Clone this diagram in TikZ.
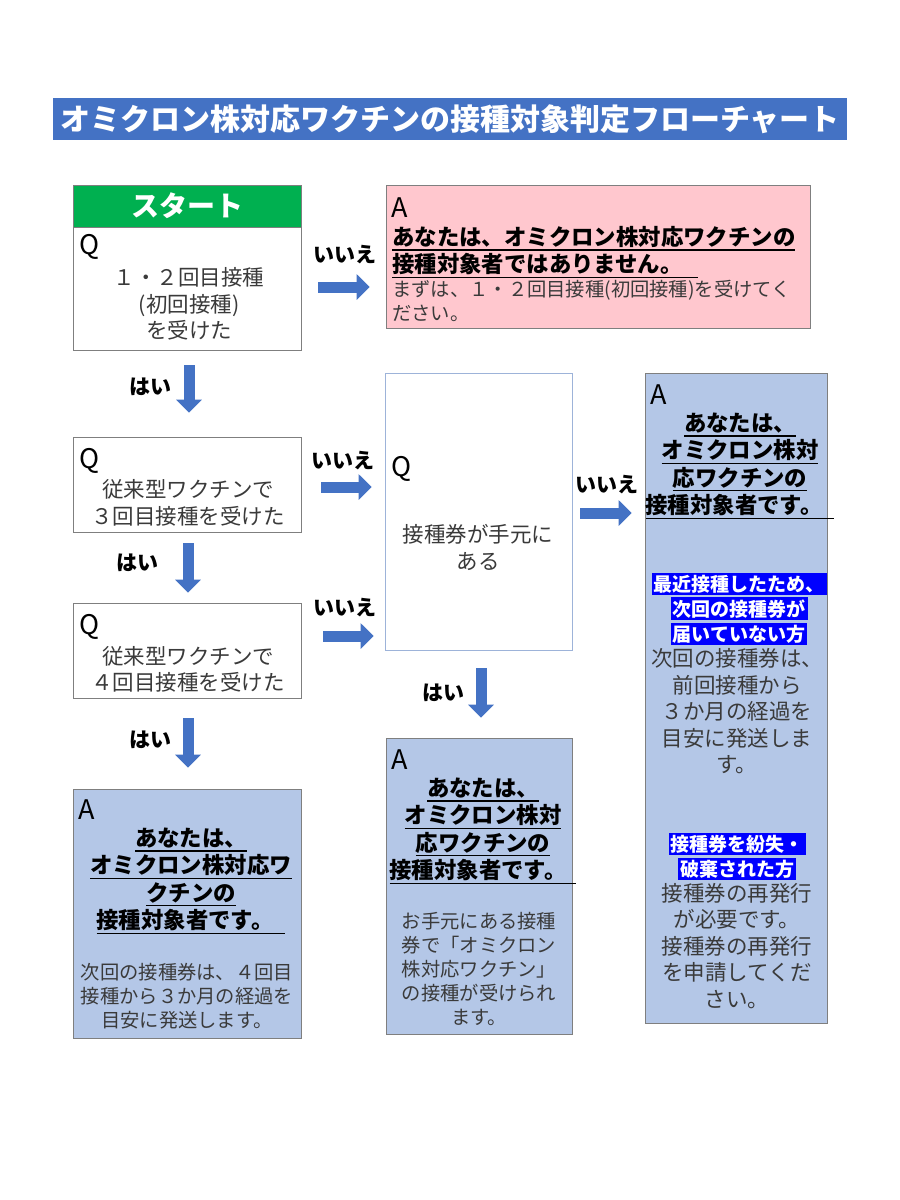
\documentclass[tikz,border=0pt]{standalone}
\usepackage{fontspec}
\setmainfont{Noto Sans CJK JP}
\usetikzlibrary{arrows.meta}
\usetikzlibrary{positioning}

\definecolor{titleblue}{HTML}{4472C4}
\definecolor{arrowblue}{HTML}{4472C4}
\definecolor{startgreen}{HTML}{00B050}
\definecolor{ngpink}{HTML}{FFC7CE}
\definecolor{ansblue}{HTML}{B4C7E7}
\definecolor{hlblue}{HTML}{0000FF}
\definecolor{boxgray}{HTML}{7F7F7F}
\definecolor{midframe}{HTML}{9DB3D9}
\definecolor{textgray}{HTML}{3A3A3A}

\newcommand{\undl}[2][0pt]{\leavevmode\vtop{\hbox{#2\hskip#1}\kern2pt\hrule height 1.3pt}}
\newcommand{\hlite}[1]{{\setlength{\fboxsep}{2pt}\colorbox{hlblue}{\textcolor{white}{#1}}}}

\begin{document}
\begin{tikzpicture}[x=1pt,y=-1pt,
    qframe/.style={draw=boxgray, line width=0.8pt, fill=white, inner sep=0pt},
    aframe/.style={qframe, fill=ansblue},
    ngframe/.style={qframe, fill=ngpink},
    titlebar/.style={fill=titleblue, text=white, inner sep=0pt, font=\bfseries\fontsize{30}{30}\selectfont},
    startbar/.style={qframe, fill=startgreen, text=white, font=\bfseries\fontsize{28}{28}\selectfont},
    blockarrow/.style={draw=arrowblue, line width=11pt, -{Triangle[length=13pt,width=25pt]}},
    qalabel/.style={anchor=west, inner sep=0pt, text=black, font=\fontsize{27}{27}\selectfont},
    yesno/.style={inner sep=0pt, text=black, font=\bfseries\fontsize{21}{21}\selectfont},
    bodytext/.style={inner sep=0pt, align=center, text=textgray, font=\fontsize{21.5}{26.5}\selectfont},
    smalltext/.style={inner sep=0pt, align=center, text=textgray, font=\fontsize{19.3}{24}\selectfont},
    boldtext/.style={inner sep=0pt, align=center, text=black, font=\bfseries\fontsize{22.4}{27.2}\selectfont},
    hltext/.style={inner sep=0pt, align=center, font=\bfseries\fontsize{19}{25}\selectfont}
]
  \useasboundingbox (0,0) rectangle (900,1200);
  \fill[white] (0,0) rectangle (900,1200);

  % title
  \node[titlebar, minimum width=794, minimum height=42] (title) at (450,119) {オミクロン株対応ワクチンの接種対象判定フローチャート};

  % questions
  \node[startbar, minimum width=228, minimum height=42] (start) at (187,206) {スタート};
  \node[qframe, minimum width=228, minimum height=123] (q1) at (187,288.5) {};
  \node[qalabel] (q1Q) at ([shift={(7,20)}]q1.north west) {Q};
  \node[bodytext] (q1txt) at (189,304) {１・２回目接種\\(初回接種)\\を受けた};

  \node[qframe, minimum width=228, minimum height=95] (q2) at (187,484.5) {};
  \node[qalabel] (q2Q) at ([shift={(7,24)}]q2.north west) {Q};
  \node[bodytext] (q2txt) at (188,503) {従来型ワクチンで\\３回目接種を受けた};

  \node[qframe, minimum width=228, minimum height=95] (q3) at (187,650.5) {};
  \node[qalabel] (q3Q) at ([shift={(7,24)}]q3.north west) {Q};
  \node[bodytext] (q3txt) at (188,669.5) {従来型ワクチンで\\４回目接種を受けた};

  \node[qframe, draw=midframe, minimum width=187, minimum height=277] (qmid) at (478.5,511.5) {};
  \node[qalabel] (qmidQ) at ([shift={(7,96)}]qmid.north west) {Q};
  \node[bodytext] (qmidtxt) at (478,547.5) {接種券が手元に\\ある};

  % answers
  \node[ngframe, minimum width=424, minimum height=143] (ano) at (598,256.5) {};
  \node[qalabel] (anoA) at ([shift={(6,23)}]ano.north west) {A};
  \node[boldtext, align=left, anchor=west] (anohead) at (392,252) {\undl{あなたは、オミクロン株対応ワクチンの}\\\undl[15pt]{接種対象者ではありません。}};
  \node[smalltext, align=left, anchor=west] (anonote) at (392,301) {まずは、１・２回目接種(初回接種)を受けてく\\ださい。};

  \node[aframe, minimum width=182, minimum height=650] (aright) at (736,698) {};
  \node[qalabel] (arightA) at ([shift={(6,22)}]aright.north west) {A};
  \node[boldtext] (arighthead) at (740,466) {\undl{あなたは、}\\\undl{オミクロン株対}\\\undl{応ワクチンの}\\\undl[12pt]{接種対象者です。}};
  \node[hltext] (recent) at (739,609) {\hlite{最近接種したため、}\\\hlite{次回の接種券が}\\\hlite{届いていない方}};
  \node[bodytext] (recentnote) at (737,711.5) {次回の接種券は、\\前回接種から\\３か月の経過を\\目安に発送しま\\す。};
  \node[hltext] (lost) at (737,856.5) {\hlite{接種券を紛失・}\\\hlite{破棄された方}};
  \node[bodytext] (lostnote) at (737,946) {接種券の再発行\\が必要です。\\接種券の再発行\\を申請してくだ\\さい。};

  \node[aframe, minimum width=186, minimum height=296] (amid) at (479,886) {};
  \node[qalabel] (amidA) at ([shift={(6,22)}]amid.north west) {A};
  \node[boldtext] (amidhead) at (483,831) {\undl{あなたは、}\\\undl{オミクロン株対}\\\undl{応ワクチンの}\\\undl[10pt]{接種対象者です。}};
  \node[smalltext] (amidnote) at (479,969) {お手元にある接種\\券で「オミクロン\\株対応ワクチン」\\の接種が受けられ\\ます。};

  \node[aframe, minimum width=228, minimum height=249] (aleft) at (187,913.5) {};
  \node[qalabel] (aleftA) at ([shift={(6,21)}]aleft.north west) {A};
  \node[boldtext] (alefthead) at (191,881) {\undl{あなたは、}\\\undl{オミクロン株対応ワ}\\\undl{クチンの}\\\undl[12pt]{接種対象者です。}};
  \node[smalltext] (aleftnote) at (187,996) {次回の接種券は、４回目\\接種から３か月の経過を\\目安に発送します。};

  % no branches
  \coordinate (no1) at ([yshift=1.5pt]q1.east);
  \draw[blockarrow, shorten <=17pt, shorten >=16pt] (no1) -- (no1 -| ano.west);
  \coordinate (no2) at ([yshift=-2.5pt]q2.east);
  \draw[blockarrow, shorten <=20pt, shorten >=13pt] (no2) -- (no2 -| qmid.west);
  \coordinate (no3) at ([yshift=14.5pt]q3.east);
  \draw[blockarrow, shorten <=22pt, shorten >=11pt] (no3) -- (no3 -| qmid.west);
  \coordinate (no4) at ([yshift=-1.5pt]qmid.east);
  \draw[blockarrow, shorten <=8pt, shorten >=13pt] (no4) -- (no4 -| aright.west);

  % yes branches
  \coordinate (yes1) at ([xshift=2pt]q1.south);
  \draw[blockarrow, shorten <=15pt, shorten >=24pt] (yes1) -- (yes1 |- q2.north);
  \coordinate (yes2) at ([xshift=1pt]q2.south);
  \draw[blockarrow, shorten <=11pt, shorten >=10pt] (yes2) -- (yes2 |- q3.north);
  \coordinate (yes3) at ([xshift=1pt]q3.south);
  \draw[blockarrow, shorten <=20pt, shorten >=21pt] (yes3) -- (yes3 |- aleft.north);
  \coordinate (yes4) at ([xshift=2.5pt]qmid.south);
  \draw[blockarrow, shorten <=18pt, shorten >=20pt] (yes4) -- (yes4 |- amid.north);

  \foreach \nm/\px/\py in {no1lbl/345/255, no2lbl/343/461, no3lbl/345/608, no4lbl/607/485}{
    \node[yesno] (\nm) at (\px,\py) {いいえ};
  }
  \foreach \nm/\px/\py in {yes1lbl/150/387, yes2lbl/137/563, yes3lbl/150/740, yes4lbl/443/693}{
    \node[yesno] (\nm) at (\px,\py) {はい};
  }
\end{tikzpicture}
\end{document}
